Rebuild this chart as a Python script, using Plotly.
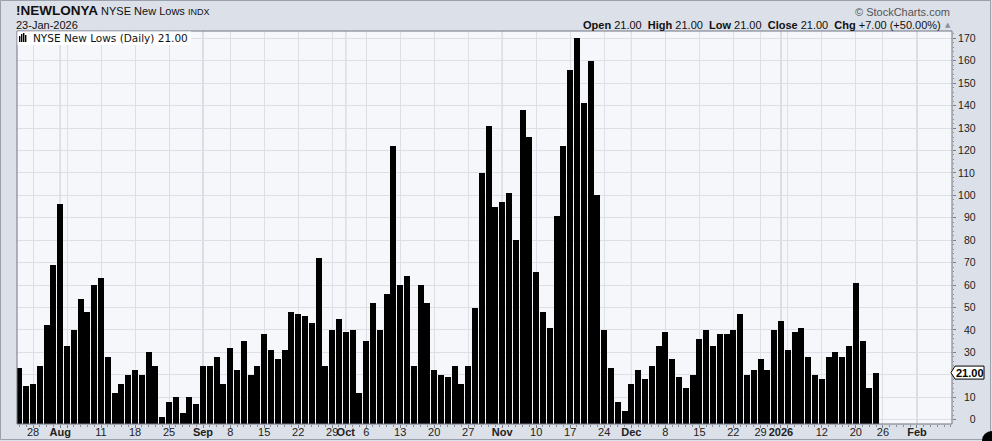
import pandas as pd
import plotly.graph_objects as go

# ---------------- data ----------------
holidays = ["2025-09-01", "2025-11-27", "2025-12-25", "2026-01-01", "2026-01-19"]
start_date = "2025-07-24"
last_date = "2026-01-23"
axis_end_date = "2026-02-13"

new_lows = [
    23, 15, 16, 24, 42, 69, 96, 33, 40, 54, 48, 60, 63, 28, 12, 16, 20, 22, 20, 30,
    24, 1, 8, 10, 3, 10, 7, 24, 24, 28, 16, 32, 22, 35, 20, 24, 38, 31, 27, 31,
    48, 47, 46, 43, 72, 24, 40, 45, 39, 40, 12, 35, 52, 40, 56, 122, 60, 64, 24, 60,
    52, 22, 20, 19, 24, 16, 24, 50, 110, 131, 95, 97, 101, 80, 138, 126, 66, 48, 41, 91,
    122, 156, 170, 141, 160, 100, 40, 23, 8, 4, 16, 22, 18, 24, 33, 39, 27, 19, 14, 20,
    36, 40, 33, 38, 38, 40, 47, 20, 22, 27, 22, 40, 44, 31, 39, 41, 28, 20, 18, 28,
    30, 28, 33, 61, 35, 14, 21,
]

tick_dates = ["2025-07-28", "2025-08-01", "2025-08-04", "2025-08-11", "2025-08-18", "2025-08-25",
              "2025-09-02", "2025-09-08", "2025-09-15", "2025-09-22", "2025-09-29", "2025-10-01",
              "2025-10-06", "2025-10-13", "2025-10-20", "2025-10-27", "2025-11-03", "2025-11-10",
              "2025-11-17", "2025-11-24", "2025-12-01", "2025-12-08", "2025-12-15", "2025-12-22",
              "2025-12-29", "2026-01-02", "2026-01-05", "2026-01-12", "2026-01-20", "2026-01-26",
              "2026-02-02"]
tick_text = ["28", "<b>Aug</b>", "", "11", "18", "25",
             "<b>Sep</b>", "8", "15", "22", "29", "<b>Oct</b>",
             "6", "13", "20", "27", "<b>Nov</b>", "10",
             "17", "24", "<b>Dec</b>", "8", "15", "22",
             "29", "<b>2026</b>", "", "12", "20", "26",
             "<b>Feb</b>"]
month_dates = ["2025-08-01", "2025-09-02", "2025-10-01", "2025-11-03", "2025-12-01", "2026-01-02", "2026-02-02"]

y_ticks = [0, 10, 20, 30, 40, 50, 60, 70, 80, 90, 100, 110, 120, 130, 140, 150, 160, 170]

# ---------------- layout helpers ----------------
W, H = 992, 441
L, R, T, B = 17, 952, 31, 424
Y_MIN, Y_MAX = -1.92, 173.25
X_MIN, X_MAX = -0.353, 137.15


def px(x):
    return (x - L) / (R - L)


def py(y):
    return (B - y) / (B - T)


cal = pd.bdate_range(start_date, axis_end_date, freq="C", holidays=holidays)
pos = {d.strftime("%Y-%m-%d"): i for i, d in enumerate(cal)}
n = len(new_lows)
x_idx = list(range(n))

tickvals = [pos[d] for d in tick_dates]
month_idx = [pos[d] for d in month_dates]

fig = go.Figure()
fig.add_trace(go.Bar(
    x=x_idx,
    y=[v - Y_MIN for v in new_lows],
    base=Y_MIN,
    width=0.86,
    marker=dict(color="#000000", line=dict(width=0)),
    hoverinfo="skip",
    showlegend=False,
))

v_last = new_lows[-1]
FIG_SP = "\u2007"
# the last-value tag hides the tick label it sits on
y_text = ["" if abs(v - v_last) < 5 else FIG_SP * (3 - len(str(v))) + str(v) for v in y_ticks]

shapes = []
# darker month lines
for mi in month_idx:
    shapes.append(dict(type="line", xref="x", yref="paper", x0=mi, x1=mi, y0=0, y1=1,
                       line=dict(color="#b9bdc8", width=1), layer="between"))
# plot frame
shapes.append(dict(type="rect", xref="paper", yref="paper", x0=0, x1=1, y0=0, y1=1,
                   line=dict(color="#6f7582", width=1), layer="above"))
# legend box
shapes.append(dict(type="rect", xref="paper", yref="paper", x0=px(17.5), x1=px(191), y0=py(45), y1=py(31.5),
                   fillcolor="#ffffff", line=dict(width=0), layer="above"))
# legend icon (small bars)
for x0, top in [(19, 36), (21, 34), (23, 33), (25, 35)]:
    shapes.append(dict(type="rect", xref="paper", yref="paper", x0=px(x0), x1=px(x0 + 1.4),
                       y0=py(42), y1=py(top), fillcolor="#000000", line=dict(width=0), layer="above"))
# outer border
shapes.append(dict(type="rect", xref="paper", yref="paper", x0=px(0.5), x1=px(W - 1.5), y0=py(H - 1.5), y1=py(0.5),
                   line=dict(color="#9aa0ac", width=1), layer="below"))
# last value tag with notch
yv = B - (v_last - Y_MIN) / (Y_MAX - Y_MIN) * (B - T)
path = "M {a},{b} L {c},{d} L {e},{d} L {e},{f} L {c},{f} Z".format(
    a=px(951), b=py(yv), c=px(955), d=py(yv - 6.5), e=px(984), f=py(yv + 6.5))
shapes.append(dict(type="path", xref="paper", yref="paper", path=path,
                   fillcolor="#ffffff", line=dict(color="#000000", width=1), layer="above"))
# bottom-right corner decoration
shapes.append(dict(type="circle", xref="paper", yref="paper", x0=px(982), x1=px(1002), y0=py(450), y1=py(431),
                   fillcolor="#000000", line=dict(width=0), layer="above"))

annotations = [
    dict(xref="paper", yref="paper", x=px(14), y=py(11), xanchor="left", yanchor="middle",
         text="<b><span style='font-size:13.5px'>!NEWLONYA</span></b> <span style='font-size:11px'>NYSE New Lows</span> <span style='font-size:9px'>INDX</span>",
         showarrow=False, font=dict(family="Liberation Sans", size=11, color="#111111")),
    dict(xref="paper", yref="paper", x=px(14), y=py(25), xanchor="left", yanchor="middle",
         text="23-Jan-2026", showarrow=False,
         font=dict(family="Liberation Sans", size=11, color="#111111")),
    dict(xref="paper", yref="paper", x=px(952), y=py(12), xanchor="right", yanchor="middle",
         text="\u00a9 StockCharts.com", showarrow=False,
         font=dict(family="Liberation Sans", size=11, color="#555555")),
    dict(xref="paper", yref="paper", x=px(943), y=py(25), xanchor="right", yanchor="middle",
         text="<b>Open</b> 21.00  <b>High</b> 21.00  <b>Low</b> 21.00  <b>Close</b> 21.00  <b>Chg</b> +7.00 (+50.00%)",
         showarrow=False, font=dict(family="Liberation Sans", size=11, color="#111111")),
    dict(xref="paper", yref="paper", x=px(947.5), y=py(25), xanchor="center", yanchor="middle",
         text="\u25b2", showarrow=False, font=dict(family="DejaVu Sans", size=7, color="#8a8f9a")),
    dict(xref="paper", yref="paper", x=px(31), y=py(38.5), xanchor="left", yanchor="middle",
         text="NYSE New Lows (Daily) 21.00", showarrow=False,
         font=dict(family="DejaVu Sans", size=10.5, color="#111111")),
    dict(xref="paper", yref="y", x=px(969.5), y=v_last, xanchor="center", yanchor="middle",
         text="<b>%.2f</b>" % v_last, showarrow=False,
         font=dict(family="Liberation Sans", size=11, color="#000000")),
]

fig.update_layout(
    width=W, height=H,
    margin=dict(l=L, r=W - R, t=T, b=H - B, pad=0, autoexpand=False),
    paper_bgcolor="#dce0e8",
    plot_bgcolor="#f6f7fb",
    bargap=0,
    shapes=shapes,
    annotations=annotations,
    xaxis=dict(
        range=[X_MIN, X_MAX], tickmode="array", tickvals=tickvals, ticktext=tick_text,
        tickangle=0, automargin=False, ticklabelstandoff=-5,
        showgrid=True, gridcolor="#dcdfe6", gridwidth=1, zeroline=False,
        ticks="outside", ticklen=3, tickcolor="#7a7f8a", showline=False,
        tickfont=dict(family="Liberation Sans", size=11, color="#222222"),
        minor=dict(tickmode="linear", tick0=0, dtick=1, ticks="outside", ticklen=2,
                   tickcolor="#8a8f9a", showgrid=False),
        fixedrange=True,
    ),
    yaxis=dict(
        side="right", range=[Y_MIN, Y_MAX], tickmode="array", tickvals=y_ticks, ticktext=y_text,
        automargin=False,
        showgrid=True, gridcolor="#dcdfe6", gridwidth=1, zeroline=False,
        ticks="outside", ticklen=3, tickcolor="#7a7f8a", showline=False,
        tickfont=dict(family="Liberation Sans", size=10.5, color="#222222"),
        minor=dict(tickmode="linear", tick0=0, dtick=2, ticks="outside", ticklen=1,
                   tickcolor="#8a8f9a", showgrid=False),
        fixedrange=True,
    ),
)

fig.write_html(
    "out.html",
    config={"displayModeBar": False},
    post_script="document.body.style.margin='0';document.body.style.overflow='hidden';",
)
